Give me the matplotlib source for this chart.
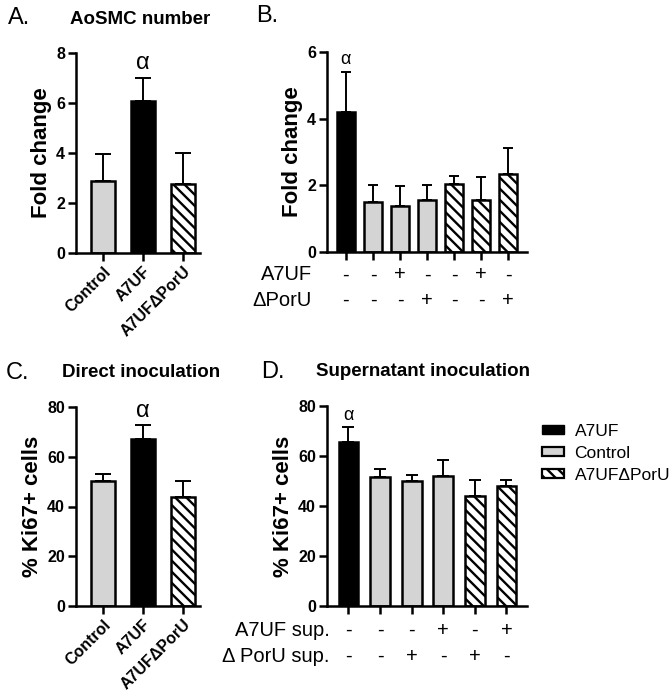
import matplotlib
matplotlib.use("Agg")
import matplotlib.pyplot as plt
from matplotlib.patches import Patch

plt.rcParams['font.family'] = ['Liberation Sans', 'DejaVu Sans']
plt.rcParams['hatch.linewidth'] = 1.7

# ---------------- data ----------------
a_labels = ['Control', 'A7UF', 'A7UF\u0394PorU']
a_means = [2.9, 6.1, 2.75]
a_err = [1.05, 0.9, 1.25]

b_means = [4.2, 1.5, 1.38, 1.57, 2.03, 1.57, 2.35]
b_err = [1.2, 0.5, 0.6, 0.45, 0.25, 0.68, 0.78]
b_groups = ['A7UF', 'Control', 'Control', 'Control', 'PorU', 'PorU', 'PorU']
b_row1 = ['-', '-', '+', '-', '-', '+', '-']
b_row2 = ['-', '-', '-', '+', '-', '-', '+']

c_labels = ['Control', 'A7UF', 'A7UF\u0394PorU']
c_means = [50.2, 67.3, 44.0]
c_err = [3.0, 5.4, 6.3]

d_means = [65.7, 51.7, 50.0, 52.2, 44.2, 48.0]
d_err = [5.8, 3.0, 2.5, 6.3, 6.1, 2.3]
d_groups = ['A7UF', 'Control', 'Control', 'Control', 'PorU', 'PorU']
d_row1 = ['-', '-', '-', '+', '-', '+']
d_row2 = ['-', '-', '+', '-', '+', '-']

GRAY = '#d4d4d4'
HATCH = '\\\\\\'
styles = {
    'A7UF': dict(color='black', hatch=None),
    'Control': dict(color=GRAY, hatch=None),
    'PorU': dict(color='white', hatch=HATCH),
}

W, H = 669, 693
fig = plt.figure(figsize=(W / 100, H / 100), dpi=100)


def make_ax(x0, x1, ytop, ybot):
    return fig.add_axes([x0 / W, 1 - ybot / H, (x1 - x0) / W, (ybot - ytop) / H])


def bar_panel(ax, means, err, groups, width, capsize, ylim, yticks):
    xs = list(range(len(means)))
    ax.errorbar(xs, means, yerr=[[0] * len(err), err], fmt='none', ecolor='black',
                elinewidth=1.4, capsize=capsize, capthick=1.4, zorder=1)
    for x, m, g in zip(xs, means, groups):
        st = styles[g]
        ax.bar(x, m, width=width, color=st['color'], hatch=st['hatch'],
               edgecolor='black', linewidth=1.8, zorder=2)
    ax.set_ylim(*ylim)
    ax.set_yticks(yticks)
    for s in ['top', 'right']:
        ax.spines[s].set_visible(False)
    for s in ['left', 'bottom']:
        ax.spines[s].set_linewidth(1.8)
    ax.tick_params(axis='both', direction='out', length=6, width=1.8, labelsize=11.5, pad=2)
    for t in ax.get_yticklabels():
        t.set_fontweight('bold')
    ax.set_xticks(xs)
    return xs


# ---------------- Panel A ----------------
axA = make_ax(76, 200, 53, 253)
xs = bar_panel(axA, a_means, a_err, ['Control', 'A7UF', 'PorU'], 0.62, 6, (0, 8), [0, 2, 4, 6, 8])
axA.set_xlim(-0.675, 2.425)
axA.set_xticklabels(a_labels, rotation=45, ha='right', rotation_mode='anchor',
                    fontweight='bold', fontsize=11.5)
axA.set_ylabel('Fold change', fontsize=16, fontweight='bold', labelpad=3)
axA.text(1, a_means[1] + a_err[1] + 0.15, '\u03b1', ha='center', va='bottom', fontsize=17)

# ---------------- Panel B ----------------
axB = make_ax(327, 527, 52, 252)
xs = bar_panel(axB, b_means, b_err, b_groups, 0.67, 3.5, (0, 6), [0, 2, 4, 6])
axB.set_xlim(-0.7, 6.7)
axB.set_xticklabels([])
axB.set_ylabel('Fold change', fontsize=16, fontweight='bold', labelpad=3)
axB.text(0, b_means[0] + b_err[0] + 0.12, '\u03b1', ha='center', va='bottom', fontsize=13)
trB = axB.get_xaxis_transform()
for x, s1, s2 in zip(xs, b_row1, b_row2):
    axB.text(x, -0.115, s1, transform=trB, ha='center', va='center', fontsize=14.5)
    axB.text(x, -0.24, s2, transform=trB, ha='center', va='center', fontsize=14.5)
axB.text(-0.075, -0.115, 'A7UF', transform=axB.transAxes, ha='right', va='center', fontsize=14.5)
axB.text(-0.075, -0.24, '\u0394PorU', transform=axB.transAxes, ha='right', va='center', fontsize=14.5)

# ---------------- Panel C ----------------
axC = make_ax(76, 200, 407, 606)
xs = bar_panel(axC, c_means, c_err, ['Control', 'A7UF', 'PorU'], 0.62, 6, (0, 80), [0, 20, 40, 60, 80])
axC.set_xlim(-0.675, 2.425)
axC.set_xticklabels(c_labels, rotation=45, ha='right', rotation_mode='anchor',
                    fontweight='bold', fontsize=11.5)
axC.set_ylabel('% Ki67+ cells', fontsize=16, fontweight='bold', labelpad=3)
axC.text(1, c_means[1] + c_err[1] + 1.2, '\u03b1', ha='center', va='bottom', fontsize=17)

# ---------------- Panel D ----------------
axD = make_ax(327, 527, 406, 606)
xs = bar_panel(axD, d_means, d_err, d_groups, 0.63, 4, (0, 80), [0, 20, 40, 60, 80])
axD.set_xlim(-0.68, 5.65)
axD.set_xticklabels([])
axD.set_ylabel('% Ki67+ cells', fontsize=16, fontweight='bold', labelpad=3)
axD.text(0, d_means[0] + d_err[0] + 1.5, '\u03b1', ha='center', va='bottom', fontsize=13)
trD = axD.get_xaxis_transform()
for x, s1, s2 in zip(xs, d_row1, d_row2):
    axD.text(x, -0.12, s1, transform=trD, ha='center', va='center', fontsize=14.5)
    axD.text(x, -0.25, s2, transform=trD, ha='center', va='center', fontsize=14.5)
axD.text(0.015, -0.12, 'A7UF sup.', transform=axD.transAxes, ha='right', va='center', fontsize=14.5)
axD.text(0.015, -0.25, '\u0394 PorU sup.', transform=axD.transAxes, ha='right', va='center', fontsize=14.5)

handles = [Patch(facecolor='black', edgecolor='black', label='A7UF'),
           Patch(facecolor=GRAY, edgecolor='black', linewidth=1.6, label='Control'),
           Patch(facecolor='white', edgecolor='black', hatch=HATCH, linewidth=1.6, label='A7UF\u0394PorU')]
fig.legend(handles=handles, loc='upper left', bbox_to_anchor=(526 / W, 1 - 408 / H),
           frameon=False, fontsize=12.5, handlelength=1.3, handleheight=0.45,
           labelspacing=0.4, handletextpad=0.6)

# ---------------- panel letters / titles ----------------
fig.text(8 / W, 1 - 18 / H, 'A.', fontsize=17, va='center')
fig.text(70 / W, 1 - 20 / H, 'AoSMC number', fontsize=13.5, fontweight='bold', va='center')
fig.text(256 / W, 1 - 16 / H, 'B.', fontsize=17, va='center')
fig.text(6 / W, 1 - 373 / H, 'C.', fontsize=17, va='center')
fig.text(62 / W, 1 - 373 / H, 'Direct inoculation', fontsize=13.5, fontweight='bold', va='center')
fig.text(261 / W, 1 - 372 / H, 'D.', fontsize=17, va='center')
fig.text(316 / W, 1 - 372 / H, 'Supernatant inoculation', fontsize=13.5, fontweight='bold', va='center')

fig.savefig('out.png', dpi=100, facecolor='white')
